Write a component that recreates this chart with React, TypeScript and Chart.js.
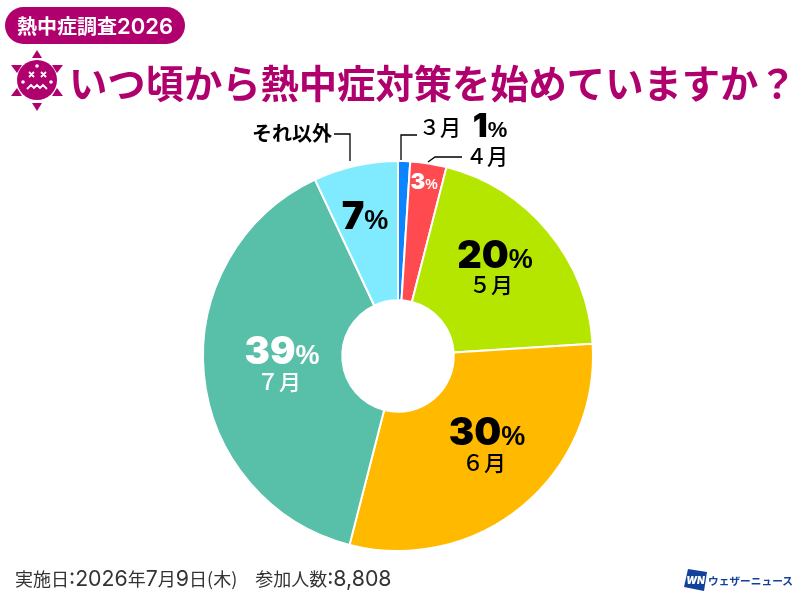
import { useRef, useEffect } from 'react'
import Chart from 'chart.js/auto'

const MONTHS = ['３月', '４月', '５月', '６月', '７月', 'それ以外']
const SHARES = [1, 3, 20, 30, 39, 7]
const SLICE_COLORS = ['#0a84ff', '#ff4b4f', '#b4e600', '#ffba00', '#58bfa8', '#80ebff']

const BADGE = '熱中症調査2026'
const TITLE = 'いつ頃から熱中症対策を始めていますか？'
const FOOTER = '実施日:2026年7月9日(木)　参加人数:8,808'
const BRAND = 'ウェザーニュース'

const CJK = '"Noto Sans CJK JP", sans-serif'
const NUM = 'Inter, "Liberation Sans", sans-serif'
const PCT = '"Liberation Sans", sans-serif'
const MAGENTA = '#b0006e'

// where each slice's texts sit, index follows MONTHS. y is the text baseline
const PLACES = [
  { x: 490, y: 137, numPx: 33, pctPx: 22, color: '#000', month: null },
  { x: 424, y: 189, numPx: 22, pctPx: 14, color: '#fff', month: null },
  { x: 495, y: 268, numPx: 38, pctPx: 27, color: '#000', month: { x: 491, y: 293, px: 22 } },
  { x: 487, y: 445, numPx: 38, pctPx: 27, color: '#000', month: { x: 484, y: 471, px: 22 } },
  { x: 282, y: 364, numPx: 38, pctPx: 27, color: '#fff', month: { x: 279, y: 390, px: 22 } },
  { x: 365, y: 229, numPx: 38, pctPx: 27, color: '#000', month: null },
]

const LEADERS = [
  [[334, 134], [350, 134], [350, 161]],
  [[401, 160], [401, 135], [417, 135]],
  [[428, 162], [435, 157], [462, 157]],
]

const labelPlugin = {
  id: 'sliceLabels',
  afterDraw(chart: Chart) {
    const ctx = chart.ctx
    ctx.save()
    ctx.textBaseline = 'alphabetic'
    ctx.strokeStyle = '#000'
    ctx.lineWidth = 1.3
    LEADERS.forEach((pts) => {
      ctx.beginPath()
      pts.forEach(([x, y], i) => (i ? ctx.lineTo(x, y) : ctx.moveTo(x, y)))
      ctx.stroke()
    })

    SHARES.forEach((v, i) => {
      const p = PLACES[i]
      const num = String(v)
      ctx.fillStyle = p.color
      ctx.font = `900 ${p.numPx}px ${NUM}`
      const nw = ctx.measureText(num).width
      ctx.font = `700 ${p.pctPx}px ${PCT}`
      const pw = ctx.measureText('%').width
      const left = p.x - (nw + pw) / 2
      ctx.textAlign = 'left'
      ctx.font = `900 ${p.numPx}px ${NUM}`
      ctx.fillText(num, left, p.y)
      ctx.font = `700 ${p.pctPx}px ${PCT}`
      ctx.fillText('%', left + nw, p.y)
      if (p.month) {
        ctx.textAlign = 'center'
        ctx.font = `500 ${p.month.px}px ${CJK}`
        ctx.fillText(MONTHS[i], p.month.x, p.month.y)
      }
    })

    // months that sit outside the pie
    ctx.fillStyle = '#000'
    ctx.textAlign = 'left'
    ctx.font = `500 21px ${CJK}`
    ctx.fillText(MONTHS[0], 419, 135)
    ctx.fillText(MONTHS[1], 466, 164)
    ctx.font = `700 20px ${CJK}`
    ctx.fillText(MONTHS[5], 252, 141)
    ctx.restore()
  },
}

// latin digits run larger than the kana and kanji round them
function Mixed({ text, digitPx, digitWeight }: { text: string; digitPx: number; digitWeight: number }) {
  return (
    <>
      {text.split(/([0-9,:]+)/).map((part, i) =>
        i % 2 ? <span key={i} style={{ fontFamily: NUM, fontSize: digitPx, fontWeight: digitWeight }}>{part}</span> : part,
      )}
    </>
  )
}

function SunIcon() {
  return (
    <svg width="64" height="70" viewBox="0 0 64 70" style={{ position: 'absolute', left: 5, top: 45 }}>
      <g fill={MAGENTA}>
        <path d="M32 5 L37 13 L27 13 Z" />
        <path d="M32 66 L37 58 L27 58 Z" />
        <path d="M6 20 L17 20 L12 28 Z" />
        <path d="M58 20 L47 20 L52 28 Z" />
        <path d="M6 51 L17 51 L12 43 Z" />
        <path d="M58 51 L47 51 L52 43 Z" />
        <circle cx="32" cy="35" r="20" />
      </g>
      <g stroke="#fff" strokeWidth="1.8" fill="none">
        <path d="M24 27 L29 32 M29 27 L24 32 M36 27 L41 32 M41 27 L36 32" />
        <path d="M22 44 L26 40 L29 43 L32 40 L35 43 L38 40 L42 44" />
      </g>
      <g fill="#fff">
        <circle cx="32" cy="21" r="1.8" />
        <circle cx="18" cy="37" r="1.8" />
        <circle cx="46" cy="37" r="1.8" />
      </g>
    </svg>
  )
}

export default function App() {
  const canvasRef = useRef<HTMLCanvasElement>(null)

  useEffect(() => {
    document.body.style.margin = '0'
    if (!canvasRef.current) return
    const chart = new Chart(canvasRef.current, {
      type: 'doughnut',
      data: {
        labels: MONTHS,
        datasets: [{
          data: SHARES,
          backgroundColor: SLICE_COLORS,
          borderColor: '#fff',
          borderWidth: 2,
        }],
      },
      options: {
        responsive: false,
        animation: false,
        cutout: '28.6%',
        layout: { padding: { left: 202, right: 206, top: 160, bottom: 48 } },
        plugins: { legend: { display: false }, tooltip: { enabled: false } },
      },
      plugins: [labelPlugin],
    })
    return () => chart.destroy()
  }, [])

  return (
    <div style={{ position: 'relative', width: 800, height: 600, background: '#fff', overflow: 'hidden', fontFamily: CJK }}>
      <canvas ref={canvasRef} width={800} height={600} style={{ position: 'absolute', left: 0, top: 0 }} />
      <div style={{ position: 'absolute', left: 5, top: 7, width: 180, height: 37, borderRadius: 19, background: MAGENTA, color: '#fff', fontSize: 20, fontWeight: 700, lineHeight: '37px', textAlign: 'center', whiteSpace: 'nowrap' }}>
        <Mixed text={BADGE} digitPx={22} digitWeight={600} />
      </div>
      <SunIcon />
      <div style={{ position: 'absolute', left: 69, top: 55, color: MAGENTA, fontSize: 38.3, fontWeight: 700, lineHeight: '54px', whiteSpace: 'nowrap' }}>
        {TITLE}
      </div>
      <div style={{ position: 'absolute', left: 15, top: 565, color: '#333', fontSize: 18, lineHeight: '26px', whiteSpace: 'nowrap' }}>
        <Mixed text={FOOTER} digitPx={21.3} digitWeight={400} />
      </div>
      <svg width="24" height="22" viewBox="0 0 24 22" style={{ position: 'absolute', left: 684, top: 569 }}>
        <path d="M4 0 L23 3 L20 22 L0 18 Z" fill="#12409a" />
        <text x="11.5" y="14.5" fontSize="10" fontWeight="900" fontStyle="italic" fill="#fff" textAnchor="middle" fontFamily={NUM}>WN</text>
      </svg>
      <div style={{ position: 'absolute', left: 708, top: 572, color: '#12409a', fontSize: 10.7, fontWeight: 700, lineHeight: '18px', whiteSpace: 'nowrap' }}>
        {BRAND}
      </div>
    </div>
  )
}
